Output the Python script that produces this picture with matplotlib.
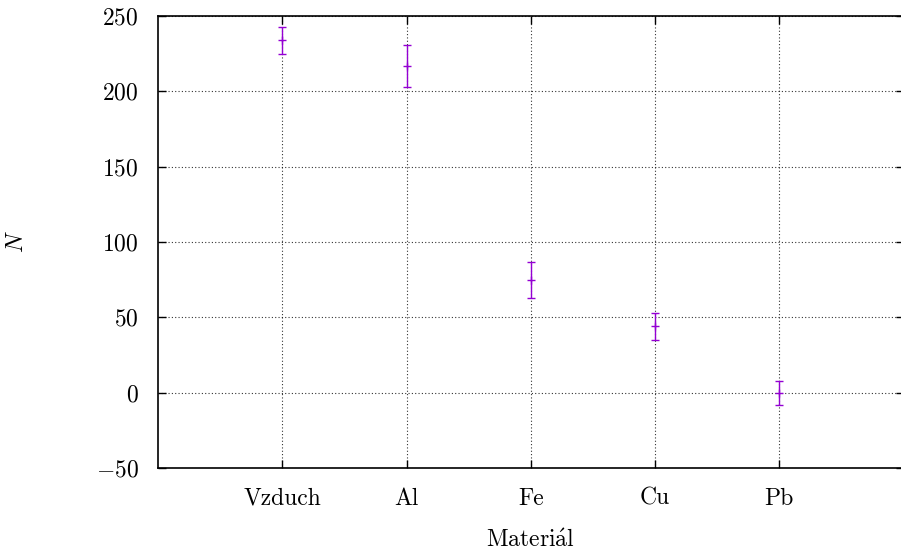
import matplotlib
matplotlib.use("Agg")
import matplotlib.pyplot as plt

materials = ["Vzduch", "Al", "Fe", "Cu", "Pb"]
counts = [234, 217, 75, 44, 0]
errors = [9, 14, 12, 9, 8]
yticks = [-50, 0, 50, 100, 150, 200, 250]

plt.rcParams['font.family'] = ['cmr10', 'DejaVu Serif']
plt.rcParams['mathtext.fontset'] = 'cm'
plt.rcParams['axes.formatter.use_mathtext'] = True
plt.rcParams['font.size'] = 17

fig = plt.figure(figsize=(9.01, 5.52), dpi=100)
ax = fig.add_axes([158 / 901, 1 - 468 / 552, 745.5 / 901, 452 / 552])

pos = list(range(1, len(materials) + 1))
ax.errorbar(pos, counts, yerr=errors, fmt='+', color='#9400D3',
            ms=6, mew=1, elinewidth=1, capsize=3, capthick=1)

ax.set_xlim(0, 6)
ax.set_ylim(-50, 250)
ax.set_xticks(pos)
ax.set_xticklabels(materials)
ax.set_yticks(yticks)
ax.grid(True, color='black', linestyle=(0, (1, 2)), linewidth=0.8, alpha=0.8)
ax.tick_params(direction='in', length=6, width=1, top=True, right=True, pad=14)
ax.tick_params(axis='y', pad=14)
for s in ax.spines.values():
    s.set_linewidth(1.2)

ax.set_xlabel(r'$\mathrm{Materi\acute{a}l}$', labelpad=14)
ax.set_ylabel('$N$', rotation=90, va='center', ha='center')
ax.yaxis.set_label_coords(-141 / 745.5, 0.5)

fig.savefig('out.png', dpi=100)
